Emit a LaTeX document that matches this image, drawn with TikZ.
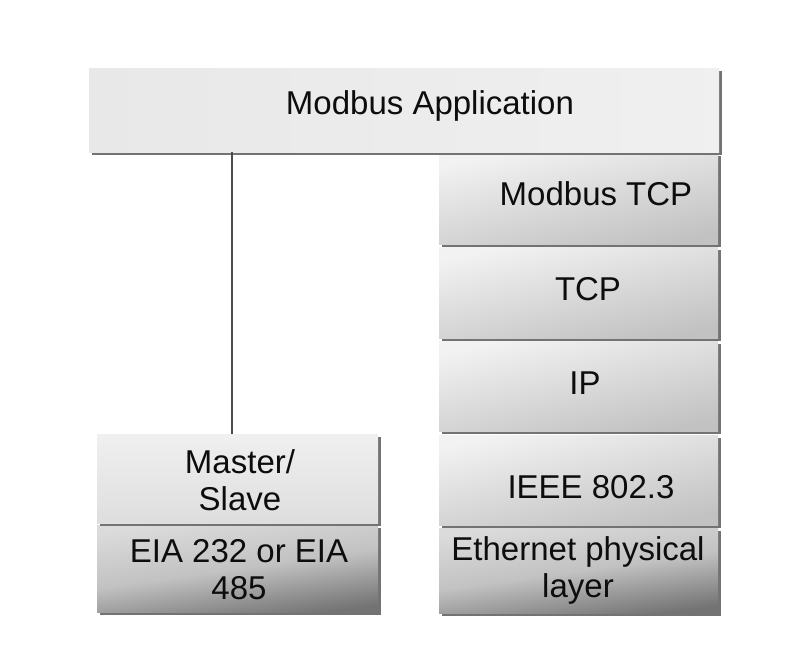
\documentclass[tikz,border=0pt]{standalone}
\usepackage{fontspec}
\setmainfont{Liberation Sans}
\usetikzlibrary{shadows}
\begin{document}
\begin{tikzpicture}[x=1pt,y=-1pt,
  lay/.style={rectangle, draw=none, inner sep=0pt, anchor=north west,
    drop shadow={shadow xshift=2.5pt, shadow yshift=-2.5pt, opacity=1, fill=black!55}},
  txt/.style={font=\fontsize{33}{37}\selectfont, text=black!95, align=center, inner sep=0pt},
  appbox/.style={left color=black!9, right color=black!6},
  lightbox/.style={top color=black!5, bottom color=black!24, shading angle=12},
  msbox/.style={top color=black!6, bottom color=black!13},
  darkbox/.style={top color=black!14, bottom color=black!55, middle color=black!24, shading angle=8},
  conn/.style={draw=black!70, line width=1.6pt}
]
\useasboundingbox[fill=white] (0,0) rectangle (798,662);
% right stack
\node[lay, darkbox,  minimum width=279pt, minimum height=85pt] (eth)  at (439,528) {};
\node[lay, lightbox, minimum width=279pt, minimum height=90pt] (ieee) at (439,435) {};
\node[lay, lightbox, minimum width=279pt, minimum height=90pt] (ip)   at (439,341) {};
\node[lay, lightbox, minimum width=279pt, minimum height=91pt] (tcp)  at (439,247) {};
\node[lay, lightbox, minimum width=279pt, minimum height=91pt] (mtcp) at (439,153) {};
% left stack
\node[lay, darkbox, minimum width=281pt, minimum height=87pt] (eia) at (97,525) {};
\node[lay, msbox,   minimum width=281pt, minimum height=89pt] (ms)  at (97,434) {};
% top
\node[lay, appbox, minimum width=630pt, minimum height=84pt, drop shadow={opacity=0}] (app) at (89,68) {};
% connector
\draw[conn] ([xshift=-5.5pt]ms.north) -- ([xshift=-5.5pt]ms.north |- app.south);
% texts
\node[txt] (tapp)  at (430,106) {Modbus Application};
\node[txt] (tmtcp) at (596,194) {Modbus TCP};
\node[txt] (ttcp)  at (588,289) {TCP};
\node[txt] (tip)   at (585,383) {IP};
\node[txt] (tieee) at (591,487) {IEEE 802.3};
\node[txt] (teth)  at (578,570) {Ethernet physical\\layer};
\node[txt] (tms)   at (240,480) {Master/\\Slave};
\node[txt] (teia)  at (239,570) {EIA 232 or EIA\\485};
\end{tikzpicture}
\end{document}
